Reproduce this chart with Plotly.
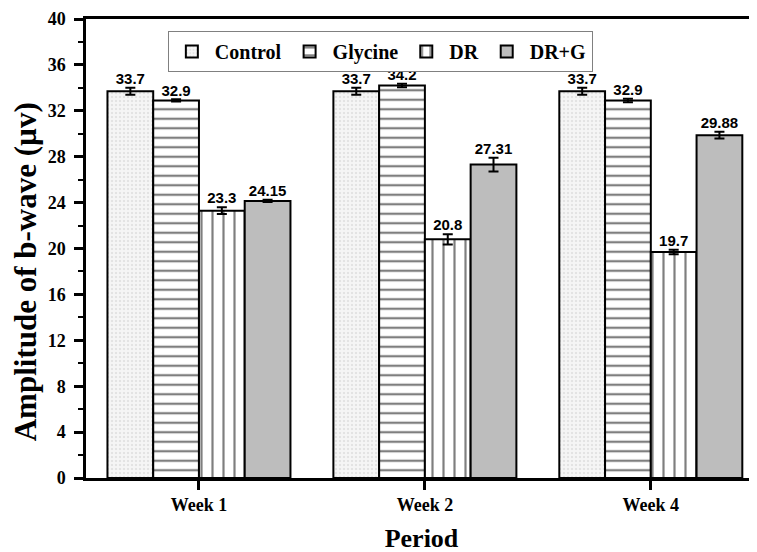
import plotly.graph_objects as go

periods = ["Week 1", "Week 2", "Week 4"]
series_names = ["Control", "Glycine", "DR", "DR+G"]
control = [33.7, 33.7, 33.7]
glycine = [32.9, 34.2, 32.9]
dr = [23.3, 20.8, 19.7]
drg = [24.15, 27.31, 29.88]
control_err = [0.3, 0.3, 0.3]
glycine_err = [0.1, 0.15, 0.15]
dr_err = [0.3, 0.45, 0.2]
drg_err = [0.1, 0.6, 0.3]
control_lbl = ["33.7", "33.7", "33.7"]
glycine_lbl = ["32.9", "34.2", "32.9"]
dr_lbl = ["23.3", "20.8", "19.7"]
drg_lbl = ["24.15", "27.31", "29.88"]
y_ticks = [0, 4, 8, 12, 16, 20, 24, 28, 32, 36, 40]

values = [control, glycine, dr, drg]
errs = [control_err, glycine_err, dr_err, drg_err]
labels = [control_lbl, glycine_lbl, dr_lbl, drg_lbl]
patterns = [
    dict(shape=".", fgcolor="#cfcfcf", bgcolor="#f5f5f5", size=4, solidity=0.3),
    dict(shape="-", fgcolor="black", bgcolor="white", size=9.5, solidity=0.24),
    dict(shape="|", fgcolor="black", bgcolor="white", size=11, solidity=0.2),
    dict(shape="", fgcolor="#bdbdbd", bgcolor="#bdbdbd"),
]
fills = ["#f5f5f5", "white", "white", "#bdbdbd"]

fig = go.Figure()
for name, v, e, p, c in zip(series_names, values, errs, patterns, fills):
    fig.add_trace(go.Bar(
        name=name, x=periods, y=v,
        marker=dict(color=c, pattern=p, line=dict(color="black", width=2)),
        error_y=dict(type="data", array=e, visible=True, color="black", thickness=2, width=5),
    ))

for name, v, e, t in zip(series_names, values, errs, labels):
    fig.add_trace(go.Scatter(
        x=periods, y=[a + b for a, b in zip(v, e)], mode="text", text=t,
        textposition="top center", showlegend=False, cliponaxis=False,
        textfont=dict(family="Liberation Sans, Arial", size=15, color="black", weight="bold"),
        hoverinfo="skip",
    ))

# the page body adds an 8px offset; margins below account for it
fig.update_layout(
    width=757, height=552,
    margin=dict(l=78, r=8, t=11, b=82),
    paper_bgcolor="white", plot_bgcolor="white",
    barmode="group", bargap=0.19, bargroupgap=0,
    scattermode="group", scattergap=0.19,
    legend=dict(
        orientation="h", x=0.122, y=0.974, xanchor="left", yanchor="top",
        bordercolor="#808080", borderwidth=1, bgcolor="white",
        font=dict(family="Liberation Serif, Times New Roman", size=20, color="black", weight="bold"),
        itemwidth=36, traceorder="normal", tracegroupgap=0,
    ),
    font=dict(family="Liberation Serif, Times New Roman", color="black"),
)

fig.update_xaxes(
    range=[-0.5, 2.47], showline=True, linecolor="black", linewidth=2.5, mirror=True,
    ticks="outside", ticklen=9, tickwidth=2.5, tickcolor="black", automargin=False,
    tickfont=dict(family="Liberation Serif", size=18, weight="bold"),
    title=dict(text="Period", font=dict(family="Liberation Serif", size=26, weight="bold")),
)
fig.update_yaxes(
    range=[0, 40], tickvals=y_ticks, showline=True, linecolor="black", linewidth=2.5,
    ticks="outside", ticklen=9, tickwidth=2.5, tickcolor="black", showgrid=False, zeroline=False,
    automargin=False, ticklabelstandoff=5,
    minor=dict(dtick=2, ticks="outside", ticklen=5, tickwidth=2, tickcolor="black", showgrid=False),
    tickfont=dict(family="Liberation Serif", size=18, weight="bold"),
    title=dict(text="Amplitude of b-wave (µv)" + "&nbsp;" * 6,
               font=dict(family="Liberation Serif", size=31, weight="bold")),
)

fig.write_html("out.html")
